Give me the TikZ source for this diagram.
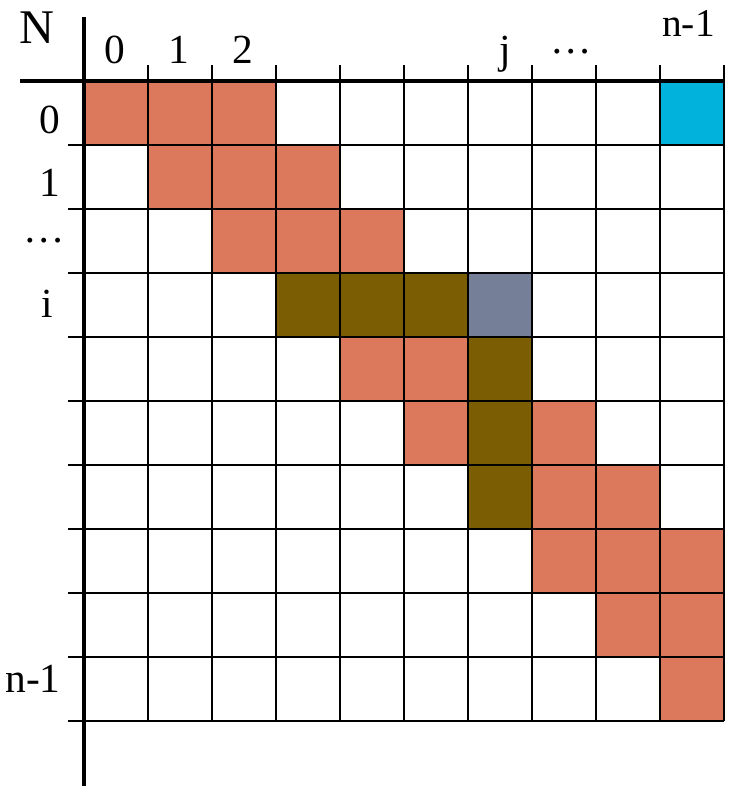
\documentclass[tikz,border=0pt]{standalone}
\usepackage{fontspec}
\setmainfont{Liberation Serif}
\usetikzlibrary{positioning}
\definecolor{cSalmon}{HTML}{DC785C}
\definecolor{cCyan}{HTML}{00B2DC}
\definecolor{cOlive}{HTML}{7B5E03}
\definecolor{cSlate}{HTML}{767F98}
\tikzset{
  cell/.style={draw=none},
  gridline/.style={line width=0.9pt,black},
  axisline/.style={line width=1.8pt,black},
  lbl/.style={inner sep=0pt,anchor=base,font=\fontsize{18.4}{20}\selectfont},
}

\begin{document}
\begin{tikzpicture}[x=1cm,y=1cm]
  \useasboundingbox (-1.3125,-11.0156) rectangle (10.094,1.2656);
  % filled cells: col/row
  \foreach \c/\r in {0/0,1/0,2/0,1/1,2/1,3/1,2/2,3/2,4/2,4/4,5/4,5/5,7/5,
                     7/6,8/6,7/7,8/7,9/7,8/8,9/8,9/9}
    \fill[cSalmon] (\c,-\r) rectangle ++(1,-1);
  \foreach \c/\r in {3/3,4/3,5/3,6/4,6/5,6/6}
    \fill[cOlive] (\c,-\r) rectangle ++(1,-1);
  \fill[cSlate] (6,-3) rectangle ++(1,-1);
  \fill[cCyan] (9,0) rectangle ++(1,-1);
  % grid
  \foreach \k in {1,...,10}{
    \draw[gridline] (\k,0.25) -- (\k,-10);
    \draw[gridline] (-0.25,-\k) -- (10,-\k);
  }
  % axes
  \draw[axisline] (0,1.0) -- (0,-11.02);
  \draw[axisline] (-1.0,0) -- (10,0);
  % labels
  \node[lbl,anchor=center,font=\fontsize{21.5}{24}\selectfont] (lN) at (-0.734,0.828) {N};
  \foreach \c/\t in {0/0,1/1,2/2}
    \node[lbl] (col\c) at (\c+0.48,0.281) {\t};
  \node[lbl] (colj) at (6.58,0.281) {j};
  \node[lbl] (coldots) at (7.61,0.4375) {\dots};
  \node[lbl,font=\fontsize{17.5}{19}\selectfont] (coln) at (9.445,0.703) {n-1};
  \node[lbl] (row0) at (-0.53,-0.8125) {0};
  \node[lbl] (row1) at (-0.53,-1.81) {1};
  \node[lbl] (rowdots) at (-0.625,-2.53) {\dots};
  \node[lbl] (rowi) at (-0.578,-3.70) {i};
  \node[lbl] (rown) at (-0.797,-9.56) {n-1};
\end{tikzpicture}
\end{document}
